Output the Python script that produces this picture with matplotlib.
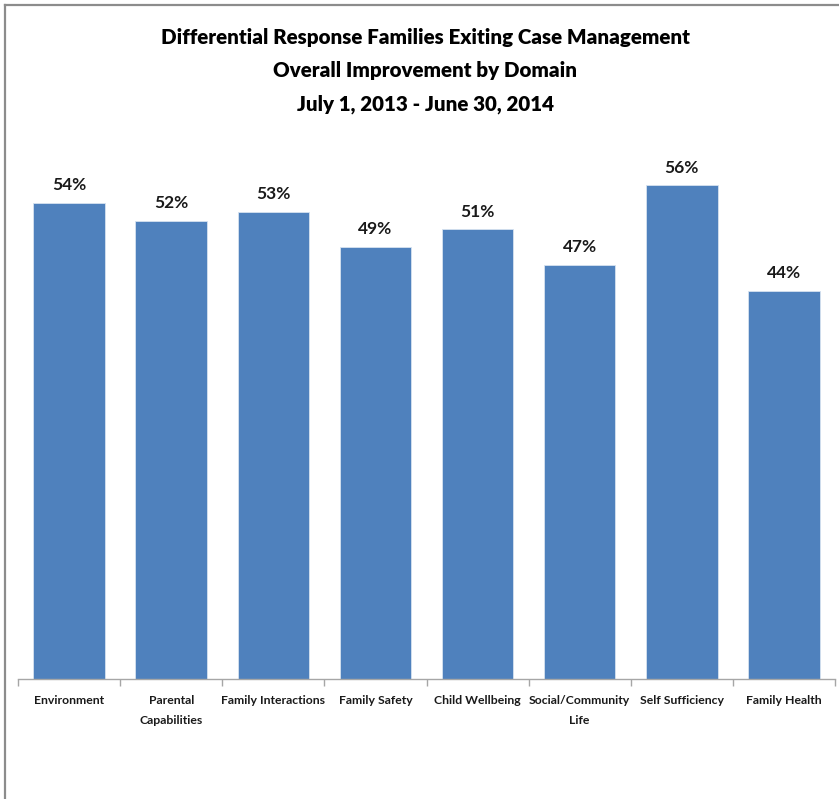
import matplotlib
matplotlib.use("Agg")
import matplotlib.pyplot as plt
from matplotlib.lines import Line2D

categories = ["Environment", "Parental\nCapabilities", "Family Interactions", "Family Safety",
              "Child Wellbeing", "Social/Community\nLife", "Self Sufficiency", "Family Health"]
values = [54, 52, 53, 49, 51, 47, 56, 44]
title_lines = ["Differential Response Families Exiting Case Management",
               "Overall Improvement by Domain",
               "July 1, 2013 - June 30, 2014"]

plt.rcParams["font.family"] = ["Lato", "DejaVu Sans"]

W, H = 839, 799
fig = plt.figure(figsize=(W / 100, H / 100), dpi=100)
fig.patch.set_facecolor("white")

ax = fig.add_axes([18 / W, 1 - 679 / H, (835 - 18) / W, (679 - 150) / H])
x = list(range(len(categories)))
bars = ax.bar(x, values, width=0.7, color="#4F81BD", edgecolor="#D7E2F0", linewidth=0.6)
ax.set_xlim(-0.5, len(categories) - 0.5)
ax.set_ylim(0, 60)

for xi, v in zip(x, values):
    ax.annotate(f"{v}%", (xi, v), xytext=(0, 7), textcoords="offset points",
                ha="center", va="bottom", fontsize=12.5, fontweight="bold", color="#1a1a1a")

for s in ["top", "right", "left"]:
    ax.spines[s].set_visible(False)
ax.spines["bottom"].set_color("#A6A6A6")
ax.spines["bottom"].set_linewidth(1.0)
ax.set_yticks([])

ax.set_xticks(x)
ax.set_xticklabels(categories, fontsize=8.8, fontweight="bold", color="#1a1a1a",
                   linespacing=1.95, va="top")
ax.tick_params(axis="x", which="major", length=0, pad=11.5)
ax.set_xticks([i - 0.5 for i in range(len(categories) + 1)], minor=True)
ax.tick_params(axis="x", which="minor", length=5, width=1.0, color="#A6A6A6")

for i, line in enumerate(title_lines):
    fig.text(425 / W, 1 - (37.5 + 33.5 * i) / H, line, ha="center", va="center",
             fontsize=14.8, fontweight="heavy", color="#000000")

# outer frame on the top and left edges
fig.add_artist(Line2D([4.5 / W, 838 / W], [1 - 4.5 / H, 1 - 4.5 / H], color="#8C8C8C", linewidth=1.6))
fig.add_artist(Line2D([4.5 / W, 4.5 / W], [0, 1 - 4.5 / H], color="#8C8C8C", linewidth=1.6))

fig.savefig("out.png", dpi=100, facecolor="white")
